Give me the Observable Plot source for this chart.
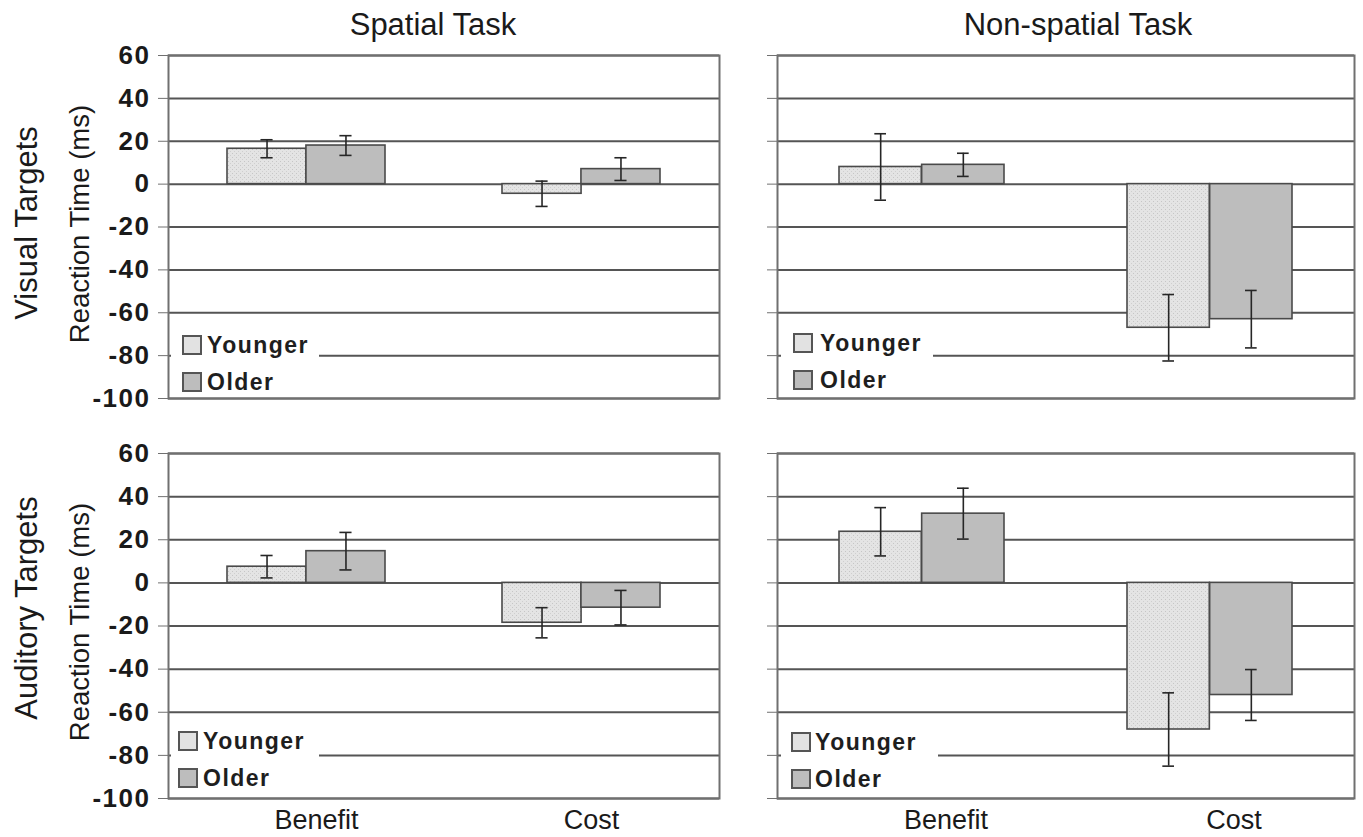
<!DOCTYPE html>
<html>
<head>
<meta charset="utf-8">
<script src="https://cdn.jsdelivr.net/npm/d3@7"></script>
<script src="https://cdn.jsdelivr.net/npm/@observablehq/plot@0.6"></script>
<style>
  body { margin: 0; background: #fff; font-family: "Liberation Sans", Arial, sans-serif; }
  #wrap { position: relative; width: 1363px; height: 837px; overflow: hidden; background: #fff; }
  .abs { position: absolute; }
  .title { font-size: 31px; line-height: 31px; color: #1a1a1a; transform: translateX(-50%); white-space: nowrap; }
  .rot { color: #1a1a1a; white-space: nowrap; transform: translate(-50%, -50%) rotate(-90deg); line-height: 1; }
  .row { font-size: 31px; }
  .ylab { font-size: 27.5px; }
  .legbox { background: #fff; }
  .sw { position: absolute; width: 16px; height: 16px; border: 2px solid #555; }
  .lt { position: absolute; font-size: 23px; font-weight: bold; letter-spacing: 1.5px; color: #1e1e1e; line-height: 22px; }
  svg [aria-label="y-axis tick label"] { letter-spacing: 1.5px; }
</style>
</head>
<body>
<svg width="0" height="0" style="position:absolute">
  <defs>
    <pattern id="dots" width="4" height="4" patternUnits="userSpaceOnUse">
      <rect width="4" height="4" fill="#e4e4e4"></rect>
      <rect x="0" y="0" width="1" height="1" fill="#c6c6c6"></rect>
      <rect x="2" y="2" width="1" height="1" fill="#cfcfcf"></rect>
    </pattern>
  </defs>
</svg>
<div id="wrap"></div>
<script>
// ---- data ----
const categories = ["Benefit", "Cost"];
const groups = ["Younger", "Older"];
const tasks = ["Spatial Task", "Non-spatial Task"];
const targets = ["Visual Targets", "Auditory Targets"];
const yLabel = "Reaction Time (ms)";
const yTicks = [60, 40, 20, 0, -20, -40, -60, -80, -100];

// order: Benefit-Younger, Benefit-Older, Cost-Younger, Cost-Older
const visualSpatialMean = [16.5, 18, -4.5, 7];
const visualSpatialErr = [4.2, 4.6, 5.9, 5.3];
const visualNonSpatialMean = [8, 9, -67, -63];
const visualNonSpatialErr = [15.5, 5.4, 15.5, 13.4];
const auditorySpatialMean = [7.5, 14.7, -18.5, -11.5];
const auditorySpatialErr = [5.2, 8.7, 7, 8];
const auditoryNonSpatialMean = [23.7, 32.1, -68, -52];
const auditoryNonSpatialErr = [11.2, 11.8, 17, 11.8];

const wrap = document.getElementById("wrap");

function addDiv(cls, text, css) {
  const d = document.createElement("div");
  d.className = "abs " + cls;
  d.textContent = text;
  Object.assign(d.style, css);
  wrap.appendChild(d);
  return d;
}

function panel(mean, err, o) {
  const rows = mean.map((v, i) => ({
    cat: categories[Math.floor(i / 2)], grp: groups[i % 2], v, lo: v - err[i], hi: v + err[i]
  }));
  const pi = 0.427, po = 0.2135;
  const inner = o.width - o.mL - o.mR;
  const bw = inner / (2 - pi + 2 * po) * (1 - pi);
  const half = bw / 2, q = bw / 4, cap = 6;
  const Yg = rows.filter(d => d.grp === groups[0]);
  const Og = rows.filter(d => d.grp === groups[1]);
  const errStyle = {stroke: "#262626", strokeWidth: 1.6};
  const plot = Plot.plot({
    width: o.width, height: o.height,
    marginLeft: o.mL, marginRight: o.mR, marginTop: o.mT, marginBottom: o.mB,
    style: {background: "transparent", fontFamily: "'Liberation Sans', Arial, sans-serif", color: "#1a1a1a", overflow: "visible"},
    x: {domain: categories, paddingInner: pi, paddingOuter: po, align: 0.5, axis: null},
    y: {domain: [-100, 60], axis: null},
    marks: [
      Plot.ruleY(yTicks, {stroke: "#555", strokeWidth: 2}),
      Plot.frame({stroke: "#707070", strokeWidth: 2}),
      Plot.barY(Yg, {x: "cat", y1: 0, y2: "v", fill: "url(#dots)", stroke: "#4a4a4a", strokeWidth: 1.6, insetRight: half}),
      Plot.barY(Og, {x: "cat", y1: 0, y2: "v", fill: "#bdbdbd", stroke: "#4a4a4a", strokeWidth: 1.6, insetLeft: half}),
      Plot.ruleX(Yg, {x: "cat", y1: "lo", y2: "hi", dx: -q, ...errStyle}),
      Plot.ruleX(Og, {x: "cat", y1: "lo", y2: "hi", dx: q, ...errStyle}),
      Plot.tickY(Yg, {x: "cat", y: "lo", insetLeft: q - cap, insetRight: 3 * q - cap, ...errStyle}),
      Plot.tickY(Yg, {x: "cat", y: "hi", insetLeft: q - cap, insetRight: 3 * q - cap, ...errStyle}),
      Plot.tickY(Og, {x: "cat", y: "lo", insetLeft: 3 * q - cap, insetRight: q - cap, ...errStyle}),
      Plot.tickY(Og, {x: "cat", y: "hi", insetLeft: 3 * q - cap, insetRight: q - cap, ...errStyle}),
      Plot.axisY({ticks: yTicks, tickSize: 10, tickPadding: 8, stroke: "#707070", fill: "#1a1a1a", label: null,
        tickFormat: o.showY ? (d => String(d)) : (() => ""), fontSize: 26, fontWeight: "bold"}),
      o.showX ? Plot.axisX({tickSize: 0, tickPadding: 11, fontSize: 27, fill: "#1a1a1a", label: null, dx: o.xdx}) : null
    ]
  });
  plot.style.position = "absolute";
  plot.style.left = o.left + "px";
  plot.style.top = o.top + "px";
  wrap.appendChild(plot);

  // legend (drawn over the chart area, white box hides the gridline)
  const L = o.leg;
  const box = addDiv("legbox", "", {left: L.bx + "px", top: L.by + "px", width: L.bw + "px", height: "76px"});
  groups.forEach((g, i) => {
    const sw = document.createElement("div");
    sw.className = "sw";
    sw.style.left = (L.sx - L.bx) + "px";
    sw.style.top = (L.sy - L.by + i * 37) + "px";
    sw.style.background = i === 0 ? "#e2e2e2" : "#bdbdbd";
    box.appendChild(sw);
    const t = document.createElement("div");
    t.className = "lt";
    t.textContent = g;
    t.style.left = (L.tx - L.bx) + "px";
    t.style.top = (L.sy - L.by + i * 37 - 1) + "px";
    box.appendChild(t);
  });
}

const leftGeom = {left: 0, width: 725, mL: 168, mR: 6, xdx: 10};
const rightGeom = {left: 725, width: 638, mL: 52, mR: 9, xdx: 24};
const topGeom = {top: 45, height: 360, mT: 10, mB: 7};
const botGeom = {top: 443, height: 394, mT: 10, mB: 39};

panel(visualSpatialMean, visualSpatialErr, {...leftGeom, ...topGeom, showY: true, showX: false,
  leg: {bx: 171, by: 319, bw: 148, sx: 182, sy: 335, tx: 207}});
panel(visualNonSpatialMean, visualNonSpatialErr, {...rightGeom, ...topGeom, showY: false, showX: false,
  leg: {bx: 781, by: 319, bw: 152, sx: 793, sy: 333, tx: 820}});
panel(auditorySpatialMean, auditorySpatialErr, {...leftGeom, ...botGeom, showY: true, showX: true,
  leg: {bx: 171, by: 719, bw: 148, sx: 178, sy: 731, tx: 203}});
panel(auditoryNonSpatialMean, auditoryNonSpatialErr, {...rightGeom, ...botGeom, showY: false, showX: true,
  leg: {bx: 781, by: 719, bw: 157, sx: 791, sy: 732, tx: 815}});

// titles
addDiv("title", tasks[0], {left: "433px", top: "9px"});
addDiv("title", tasks[1], {left: "1078px", top: "9px"});
// row labels
addDiv("rot row", targets[0], {left: "26px", top: "223px"});
addDiv("rot ylab", yLabel, {left: "80px", top: "224px"});
addDiv("rot row", targets[1], {left: "26px", top: "608px"});
addDiv("rot ylab", yLabel, {left: "80px", top: "622px"});
</script>
</body>
</html>
